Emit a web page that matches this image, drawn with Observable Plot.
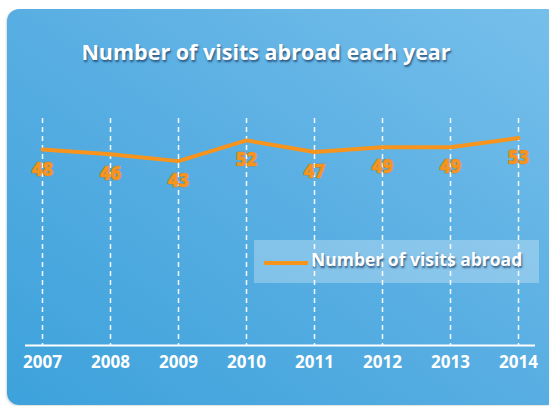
<!DOCTYPE html>
<html>
<head>
<meta charset="utf-8">
<script src="https://cdn.jsdelivr.net/npm/d3@7"></script>
<script src="https://cdn.jsdelivr.net/npm/@observablehq/plot@0.6"></script>
<style>
  html, body { margin: 0; padding: 0; background: #fff; width: 549px; height: 406px; overflow: hidden; }
  #panel {
    position: absolute; left: 7px; top: 9px; width: 552px; height: 396px;
    border-radius: 12px;
    background: linear-gradient(to top right, #3da2db 0%, #58aee2 50%, #76bfeb 100%);
    box-shadow: -1px 1px 2px rgba(0,0,0,0.15);
  }
  #title {
    position: absolute; left: 0; top: 37px; width: 532px; text-align: center;
    font-family: "Open Sans", "Noto Sans", sans-serif; font-weight: 700; font-size: 21.5px;
    color: #fff; text-shadow: 1px 2px 2px rgba(20,50,90,0.7);
  }
  #chart { position: absolute; left: 0; top: 0; }
  #legend {
    position: absolute; left: 254px; top: 240px; width: 285px; height: 43px;
    background: rgba(255,255,255,0.28);
  }
  #legend .sw { position: absolute; left: 10px; top: 21px; width: 44px; height: 4px; background: #f7941d; }
  #legend .lb {
    position: absolute; left: 57px; top: 7px;
    font-family: "Open Sans", "Noto Sans", sans-serif; font-weight: 700; font-size: 17.5px;
    color: #fff; text-shadow: 1px 2px 2px rgba(20,50,90,0.7); white-space: nowrap;
  }
</style>
</head>
<body>
<div id="panel"></div>
<div id="legend"><div class="sw"></div><div class="lb">Number of visits abroad</div></div>
<div id="title">Number of visits abroad each year</div>
<div id="chart"></div>
<script>
const years = [2007, 2008, 2009, 2010, 2011, 2012, 2013, 2014];
const visits = [48, 46, 43, 52, 47, 49, 49, 53];
const seriesName = "Number of visits abroad";

const data = years.map((y, i) => ({year: y, value: visits[i]}));
const orange = "#f7941d";
const shadow = "drop-shadow(1px 2px 1.5px rgba(20,50,90,0.7))";
const darkShadow = "drop-shadow(1px 1.5px 1px rgba(15,40,80,0.85))";

const chart = Plot.plot({
  width: 549,
  height: 406,
  marginLeft: 42,
  marginRight: 31,
  marginTop: 118,
  marginBottom: 61,
  style: {background: "transparent", overflow: "visible"},
  x: {domain: [2007, 2014], axis: null},
  y: {domain: [-37, 61.5], axis: null},
  marks: [
    Plot.ruleX(years, {stroke: "#fff", strokeWidth: 1.5, strokeDasharray: "5,4", strokeOpacity: 0.95}),
    Plot.ruleY([-37], {x1: 2006.75, x2: 2014.25, stroke: "#fff", strokeWidth: 2}),
    Plot.text(years, {x: d => d, y: -37, dy: 17, text: d => String(d), fill: "#fff",
      fontFamily: "Open Sans, Noto Sans, sans-serif", fontWeight: 700, fontSize: 17,
      style: {filter: shadow}}),
    Plot.line(data, {x: "year", y: "value", stroke: orange, strokeWidth: 4, strokeLinejoin: "miter"}),
    Plot.text(data, {x: "year", y: "value", dy: 20, text: d => String(d.value), fill: orange,
      stroke: "#c86f0a", strokeWidth: 0.6,
      fontFamily: "Open Sans, Noto Sans, sans-serif", fontWeight: 800, fontSize: 18.5,
      style: {filter: darkShadow}})
  ]
});
document.getElementById("chart").appendChild(chart);
</script>
</body>
</html>
